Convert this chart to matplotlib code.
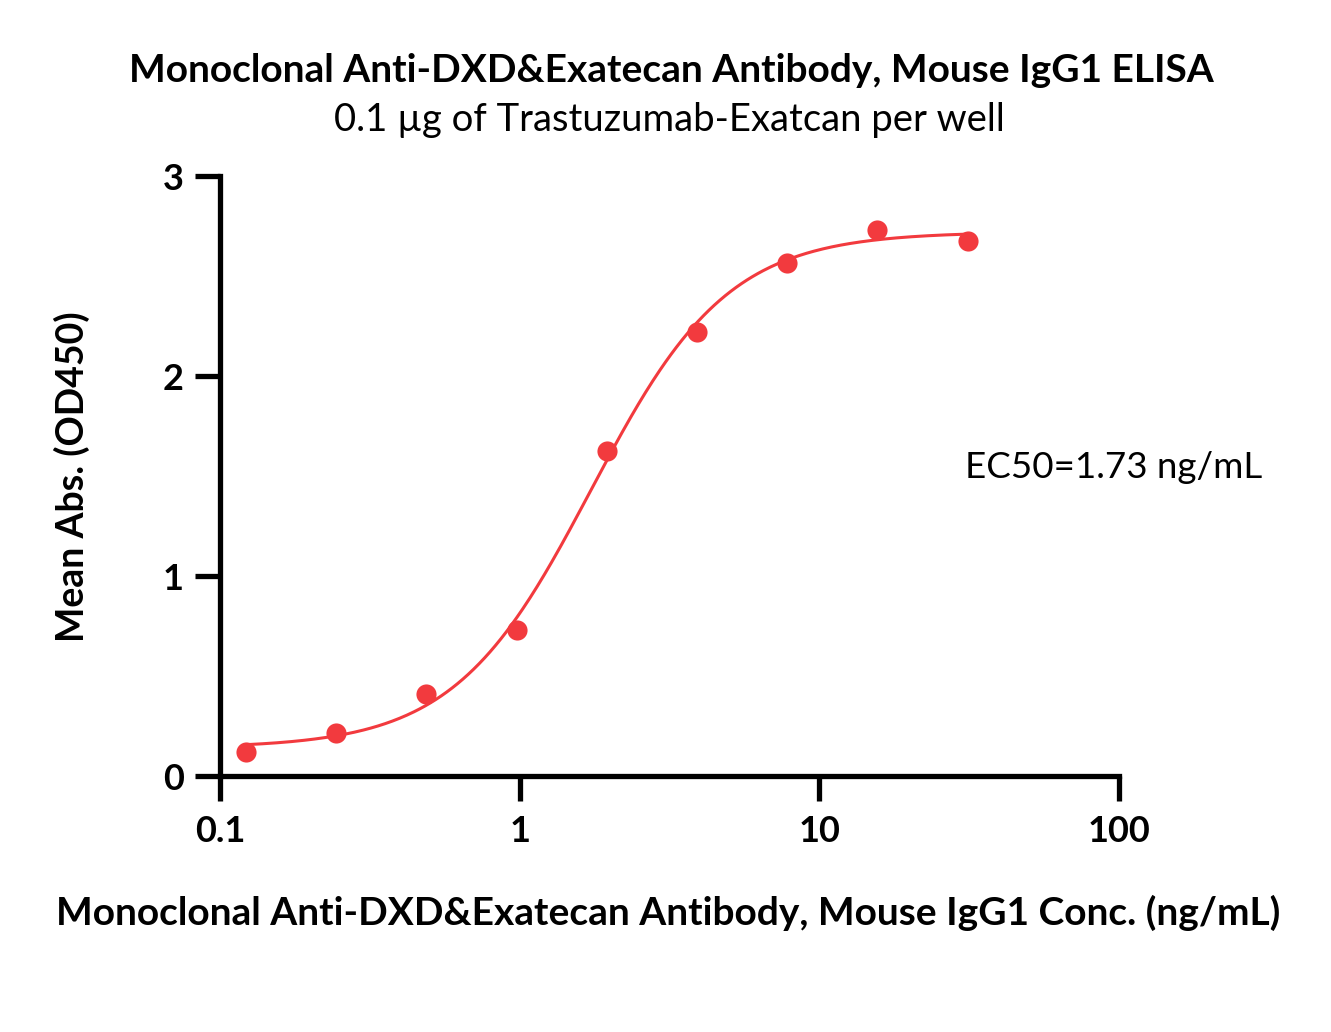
import numpy as np
import matplotlib
matplotlib.use("Agg")
import matplotlib.pyplot as plt

plt.rcParams['font.family'] = ['Lato', 'DejaVu Sans']

# Data
conc = [0.122, 0.244, 0.488, 0.977, 1.95, 3.9, 7.8, 15.6, 31.25]
od450 = [0.12, 0.215, 0.41, 0.73, 1.625, 2.22, 2.565, 2.73, 2.675]

# 4PL fit parameters (estimated from the drawn curve)
fit_bottom = 0.14
fit_top = 2.72
fit_ec50 = 1.73
fit_hill = 1.9

x_ticks = [0.1, 1, 10, 100]
x_tick_labels = ["0.1", "1", "10", "100"]
y_ticks = [0, 1, 2, 3]

title = "Monoclonal Anti-DXD&Exatecan Antibody, Mouse IgG1 ELISA"
subtitle = "0.1 \u00b5g of Trastuzumab-Exatcan per well"
xlabel = "Monoclonal Anti-DXD&Exatecan Antibody, Mouse IgG1 Conc. (ng/mL)"
ylabel = "Mean Abs. (OD450)"
ec50_text = "EC50=1.73 ng/mL"

color = "#f23a3e"

fig = plt.figure(figsize=(13.31, 10.32), dpi=100)
ax = fig.add_axes([220/1331, 1-776/1032, (1119-220)/1331, (776-176)/1032])

xs = np.logspace(np.log10(min(conc)), np.log10(max(conc)), 400)
ys = fit_bottom + (fit_top - fit_bottom) / (1 + (fit_ec50 / xs) ** fit_hill)
ax.plot(xs, ys, color=color, lw=2.2, zorder=2)
ax.plot(conc, od450, 'o', color=color, ms=14.5, mec='none', zorder=3, clip_on=False)

ax.set_xscale('log')
ax.set_xlim(0.1, 100)
ax.set_ylim(0, 3)
ax.set_xticks(x_ticks)
ax.set_xticklabels(x_tick_labels)
ax.minorticks_off()
ax.set_yticks(y_ticks)

for s in ['top', 'right']:
    ax.spines[s].set_visible(False)
for s in ['left', 'bottom']:
    ax.spines[s].set_linewidth(3.8)
    ax.spines[s].set_capstyle('projecting')
ax.tick_params(axis='both', width=3.8, length=18, labelsize=26, pad=8)
ax.tick_params(axis='x', pad=10)
for lbl in ax.get_xticklabels() + ax.get_yticklabels():
    lbl.set_fontweight('bold')

ax.set_xlabel(xlabel, fontsize=28, fontweight='bold', va='center')
ax.xaxis.set_label_coords(0.5 - 0.002, (776-913)/600)
ax.set_ylabel(ylabel, fontsize=27, fontweight='bold', va='center')
ax.yaxis.set_label_coords((72-220)/899, (776-477)/600)

ax.text((965-220)/899, (776-467)/600, ec50_text, transform=ax.transAxes,
        fontsize=26.5, ha='left', va='center')

fig.text(671/1331, 1-70/1032, title, fontsize=28, fontweight='bold', ha='center', va='center')
fig.text(669/1331, 1-120/1032, subtitle, fontsize=27.5, ha='center', va='center')

fig.savefig("out.png", dpi=100, facecolor='white')
